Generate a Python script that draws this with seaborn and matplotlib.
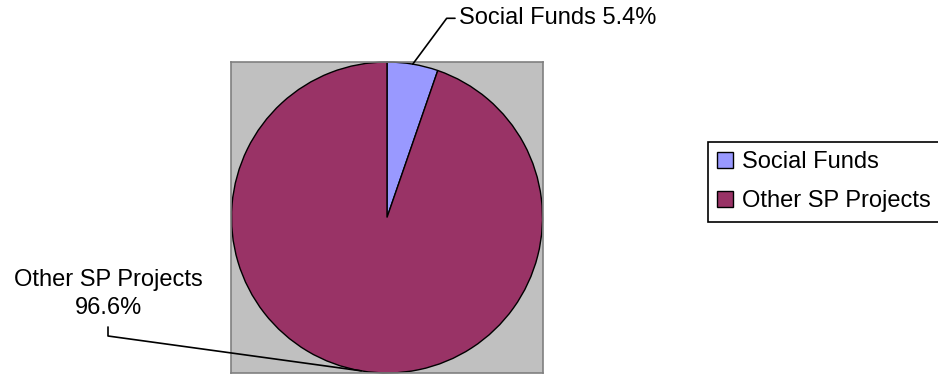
import matplotlib
matplotlib.use("Agg")
import matplotlib.pyplot as plt
import seaborn as sns
import numpy as np
from matplotlib.lines import Line2D
from matplotlib.patches import Patch

categories = ["Social Funds", "Other SP Projects"]
values = [5.4, 96.6]
label_texts = ["Social Funds 5.4%", "Other SP Projects\n96.6%"]
colors_hex = ["#9999FF", "#993366"]

sns.set_style("white")
plt.rcParams["font.family"] = ["Liberation Sans", "DejaVu Sans"]
plt.rcParams["text.color"] = "black"
colors = sns.color_palette(colors_hex)

W, H = 938, 375
fig = plt.figure(figsize=(W / 100, H / 100), dpi=100)

def fx(x):
    return x / W

def fy(y):
    return 1 - y / H

# plot area (gray square)
left, right, top, bottom = 231, 543, 62, 373
ax = fig.add_axes([fx(left), fy(bottom), (right - left) / W, (bottom - top) / H])

wedges, _ = ax.pie(values, colors=colors, startangle=90, counterclock=False,
                   radius=1.0, wedgeprops=dict(edgecolor="black", linewidth=1.0))
r_px = 155.5
ax.set_xlim(-(right - left) / 2 / r_px, (right - left) / 2 / r_px)
ax.set_ylim(-(bottom - top) / 2 / r_px, (bottom - top) / 2 / r_px)
ax.set_aspect("auto")
ax.set_frame_on(True)
ax.set_facecolor("#C0C0C0")
for s in ax.spines.values():
    s.set_visible(True)
    s.set_color("#808080")
    s.set_linewidth(1.2)
ax.set_xticks([])
ax.set_yticks([])

fig.canvas.draw()

def wedge_mid_fig(w):
    ang = np.deg2rad((w.theta1 + w.theta2) / 2)
    px = ax.transData.transform((np.cos(ang), np.sin(ang)))
    return px[0] / W, px[1] / H

fs = 17
# Social Funds label + leader
sx, sy = wedge_mid_fig(wedges[0])
fig.add_artist(Line2D([sx, fx(446.7), fx(455)], [sy, fy(18.3), fy(18.3)],
                      transform=fig.transFigure, color="black", lw=1.2))
fig.text(fx(459), fy(18.5), label_texts[0], ha="left", va="center", fontsize=fs)

# Other SP Projects label + leader
ox, oy = wedge_mid_fig(wedges[1])
fig.add_artist(Line2D([fx(108), fx(108), ox], [fy(327), fy(336), oy],
                      transform=fig.transFigure, color="black", lw=1.2))
fig.text(fx(108), fy(294), label_texts[1], ha="center", va="center",
         fontsize=fs, linespacing=1.3, multialignment="center")

# legend
handles = [Patch(facecolor=c, edgecolor="black", linewidth=1.0) for c in colors]
leg = fig.legend(handles, categories, loc="upper left",
                 bbox_to_anchor=(fx(708), fy(142)), bbox_transform=fig.transFigure,
                 fontsize=fs, frameon=True, fancybox=False, framealpha=1,
                 edgecolor="black", borderpad=0.4, handlelength=0.65,
                 handleheight=0.65, handletextpad=0.4, labelspacing=0.72,
                 borderaxespad=0)
leg.get_frame().set_linewidth(1.2)

fig.savefig("out.png", dpi=100)
